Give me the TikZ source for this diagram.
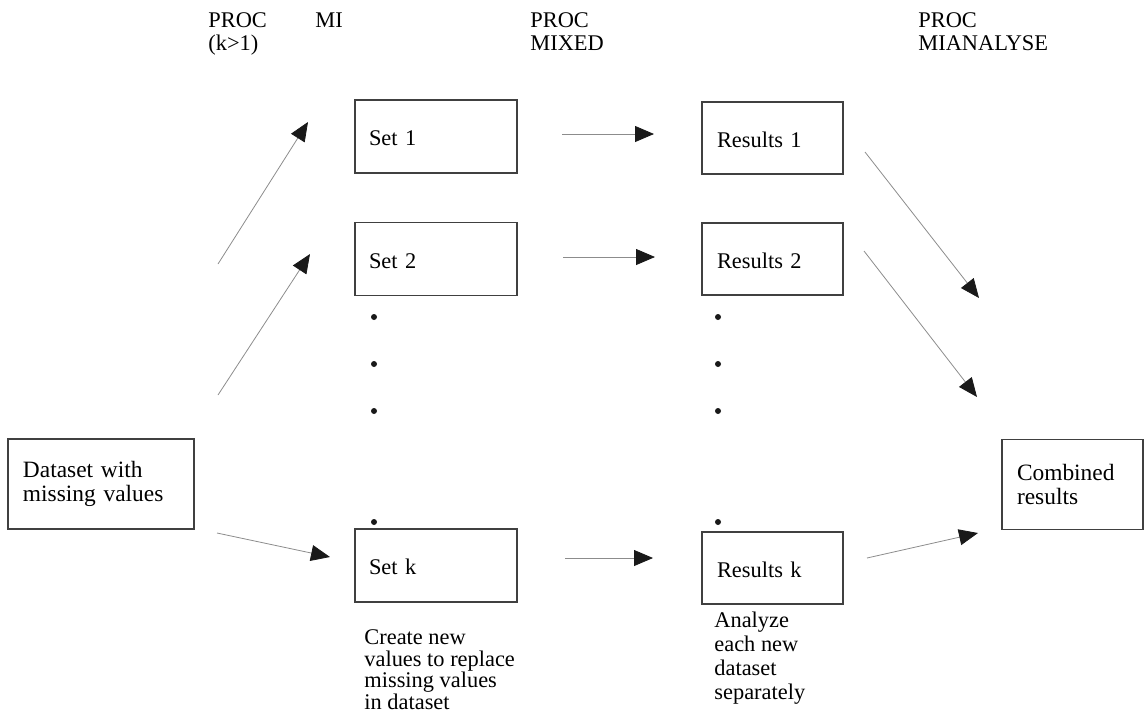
\documentclass[tikz,border=0pt]{standalone}
\usepackage{fontspec}
\setmainfont{Liberation Serif}
\usetikzlibrary{arrows.meta}

\tikzset{
 box/.style={draw=black!75, line width=0.6pt, align=left, inner ysep=0pt, inner xsep=7pt,
   font=\fontsize{11.2}{11.5}\selectfont},
 setbox/.style={box, minimum width=81pt, minimum height=36.5pt, text width=67pt, text height=9pt, text depth=0pt},
 resbox/.style={box, minimum width=70.5pt, minimum height=36pt, text width=55.5pt, text height=9pt, text depth=0pt, inner xsep=7.5pt},
 bigbox/.style={box, minimum height=45pt, inner xsep=7.5pt, font=\fontsize{11.7}{12}\selectfont},
 flow/.style={draw=black!45, line width=0.4pt, -{Triangle[length=9.5pt,width=8pt,color=black!90,fill=black!90]}},
 note/.style={align=left, inner sep=0pt, anchor=base west, font=\fontsize{11.2}{11.5}\selectfont},
}

\begin{document}
\begin{tikzpicture}[x=0.5pt,y=-0.5pt]
\useasboundingbox (0,0) rectangle (1145,723);

\node[note] (procmi) at (208,50) {PROC\\(k>1)};
\node[note] (mi) at (315,27) {MI};
\node[note] (procmixed) at (530,50) {PROC\\MIXED};
\node[note] (procmian) at (918,50) {PROC\\MIANALYSE};

\node[bigbox, minimum width=93pt, text width=78pt] (data) at (101,484) {Dataset with\\missing values};
\node[setbox] (set1) at (436,136.5) {Set 1};
\node[setbox] (set2) at (436,259) {Set 2};
\node[setbox] (setk) at (436,565.5) {Set k};
\node[resbox] (res1) at (772.5,138) {Results 1};
\node[resbox] (res2) at (772.5,259) {Results 2};
\node[resbox] (resk) at (772.5,568) {Results k};
\node[bigbox, minimum width=70.5pt, text width=55.5pt] (comb) at (1072.5,484.5) {Combined\\results};

\node[note, font=\fontsize{11.2}{10.7}\selectfont] (create) at (364,709) {Create new\\values to replace\\missing values\\in dataset};
\node[note, font=\fontsize{11.2}{12}\selectfont] (analyze) at (714,699) {Analyze\\each new\\dataset\\separately};

\foreach \y in {317,364,411,522} {
 \fill[black!90] (374,\y) circle (1.5pt);
 \fill[black!90] (718,\y) circle (1.5pt);
}

\coordinate (a1s) at (218,264); \coordinate (a1e) at (308,122);
\coordinate (a2s) at (218,395); \coordinate (a2e) at (310,254);
\coordinate (a3s) at (217,533); \coordinate (a3e) at (330,557);
\coordinate (b1s) at (562,134); \coordinate (b1e) at (654,134);
\coordinate (b2s) at (563,257); \coordinate (b2e) at (655,257);
\coordinate (b3s) at (565,558); \coordinate (b3e) at (653,558);
\coordinate (c1s) at (865,152); \coordinate (c1e) at (979,298);
\coordinate (c2s) at (864,251); \coordinate (c2e) at (977,397);
\coordinate (c3s) at (867,558); \coordinate (c3e) at (978,533);

\foreach \a in {a1,a2,a3,b1,b2,b3,c1,c2,c3} {
 \draw[flow] (\a s) -- (\a e);
}
\end{tikzpicture}
\end{document}
